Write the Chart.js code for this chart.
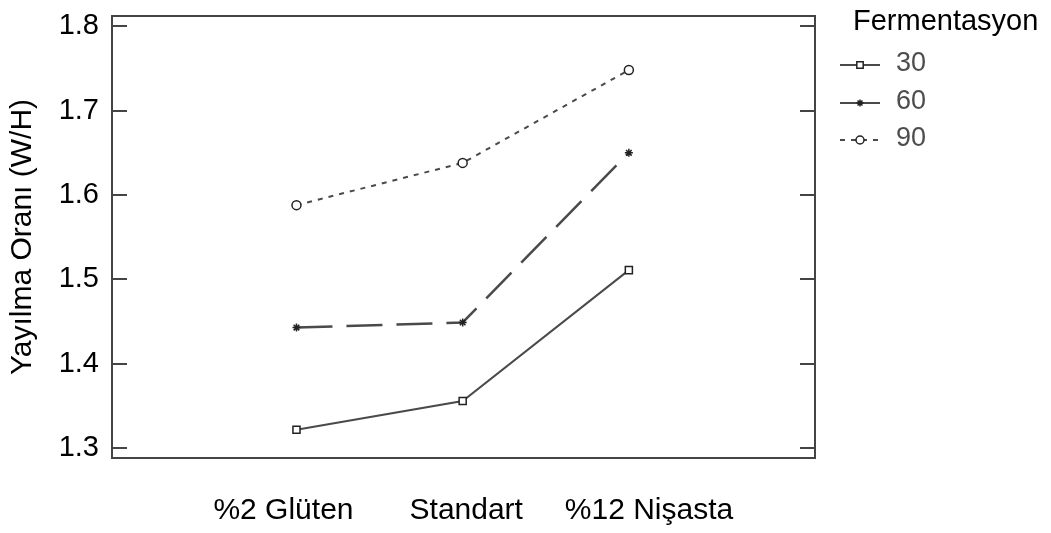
<!DOCTYPE html>
<html>
<head>
<meta charset="utf-8">
<script src="https://cdn.jsdelivr.net/npm/chart.js@4"></script>
<style>
  html, body { margin: 0; padding: 0; background: #fff; }
  #chart { display: block; }
</style>
</head>
<body>
<canvas id="chart" width="1051" height="533"></canvas>
<script>
// data
const categories = ["%2 Glüten", "Standart", "%12 Nişasta"];
const seriesNames = ["30", "60", "90"];
const ferm30 = [1.322, 1.356, 1.511];
const ferm60 = [1.443, 1.449, 1.650];
const ferm90 = [1.588, 1.638, 1.748];
const yTicks = [1.3, 1.4, 1.5, 1.6, 1.7, 1.8];

const FONT = "'Liberation Sans', Arial, sans-serif";
const LINE = "#4a4a4a";

function points(values) {
  return values.map((v, i) => ({ x: i + 1, y: v }));
}

const seriesValues = [ferm30, ferm60, ferm90];
const styles = [
  { dash: [], width: 2, pointStyle: "rect", radius: 5 },
  { dash: [36, 14], width: 2.5, pointStyle: "star", radius: 4 },
  { dash: [5, 6], width: 2, pointStyle: "circle", radius: 4.5 },
];

const datasets = seriesNames.map((name, i) => ({
  label: name,
  data: points(seriesValues[i]),
  borderColor: LINE,
  borderWidth: styles[i].width,
  borderDash: styles[i].dash,
  tension: 0,
  fill: false,
  pointStyle: styles[i].pointStyle,
  pointRadius: styles[i].radius,
  pointBorderWidth: 1.5,
  pointBorderColor: "#222",
  pointBackgroundColor: "#fff",
}));

// frame with inward ticks on both sides, plus the legend on the right
const framePlugin = {
  id: "frame",
  afterDraw(chart) {
    const { ctx, chartArea: a } = chart;
    const yScale = chart.scales.y;
    ctx.save();
    ctx.strokeStyle = "#444";
    ctx.lineWidth = 2;
    ctx.setLineDash([]);
    ctx.strokeRect(a.left, a.top, a.right - a.left, a.bottom - a.top);
    yScale.ticks.forEach(t => {
      const y = Math.round(yScale.getPixelForValue(t.value));
      ctx.beginPath();
      ctx.moveTo(a.left, y);
      ctx.lineTo(a.left + 15, y);
      ctx.moveTo(a.right - 15, y);
      ctx.lineTo(a.right, y);
      ctx.stroke();
    });

    // legend
    ctx.fillStyle = "#000";
    ctx.font = "29px " + FONT;
    ctx.textBaseline = "middle";
    ctx.textAlign = "left";
    ctx.fillText("Fermentasyon", 853, 22);

    const rows = [65, 103, 140];
    chart.data.datasets.forEach((ds, i) => {
      const y = rows[i];
      ctx.strokeStyle = LINE;
      ctx.lineWidth = 2;
      ctx.setLineDash(i === 2 ? [5, 6] : []);
      ctx.beginPath();
      ctx.moveTo(840, y);
      ctx.lineTo(880, y);
      ctx.stroke();
      ctx.setLineDash([]);
      ctx.strokeStyle = ds.pointBorderColor;
      ctx.fillStyle = ds.pointBackgroundColor;
      ctx.lineWidth = 1.5;
      Chart.helpers.drawPoint(ctx, {
        pointStyle: ds.pointStyle,
        radius: ds.pointRadius - 0.5,
        rotation: 0,
        borderWidth: 1.5,
      }, 860, y);
      ctx.fillStyle = "#4d4d4d";
      ctx.font = "27px " + FONT;
      ctx.fillText(ds.label, 896, y - 1);
    });
    ctx.restore();
  },
};

new Chart(document.getElementById("chart"), {
  type: "line",
  data: { datasets },
  options: {
    responsive: false,
    animation: false,
    devicePixelRatio: 1,
    layout: { padding: { top: 16, right: 236, left: 0, bottom: 0 } },
    plugins: {
      legend: { display: false },
      tooltip: { enabled: false },
    },
    scales: {
      x: {
        type: "linear",
        display: false,
        min: -0.11,
        max: 4.12,
      },
      // separate axis that only carries the category labels
      xLabels: {
        type: "linear",
        position: "bottom",
        min: 0.062,
        max: 3.908,
        grid: { display: false, drawTicks: false },
        border: { display: false },
        ticks: {
          stepSize: 1,
          includeBounds: false,
          autoSkip: false,
          maxRotation: 0,
          padding: 35,
          color: "#000",
          font: { family: FONT, size: 30 },
          callback: v => categories[v - 1] || "",
        },
        afterFit(scale) {
          scale.height = 75;
          scale.paddingLeft = 0;
          scale.paddingRight = 0;
        },
      },
      y: {
        type: "linear",
        min: 1.2885,
        max: 1.812,
        grid: { display: false, drawTicks: false },
        border: { display: false },
        afterBuildTicks(scale) {
          scale.ticks = yTicks.map(v => ({ value: v }));
        },
        ticks: {
          padding: 13,
          color: "#000",
          font: { family: FONT, size: 29 },
          callback: v => Number(v).toFixed(1),
        },
        title: {
          display: true,
          text: "Yayılma Oranı (W/H)",
          color: "#000",
          font: { family: FONT, size: 30 },
          padding: { top: 5, bottom: 0 },
        },
        afterFit(scale) {
          scale.width = 112;
          scale.paddingTop = 0;
          scale.paddingBottom = 0;
        },
      },
    },
  },
  plugins: [framePlugin],
});
</script>
</body>
</html>
